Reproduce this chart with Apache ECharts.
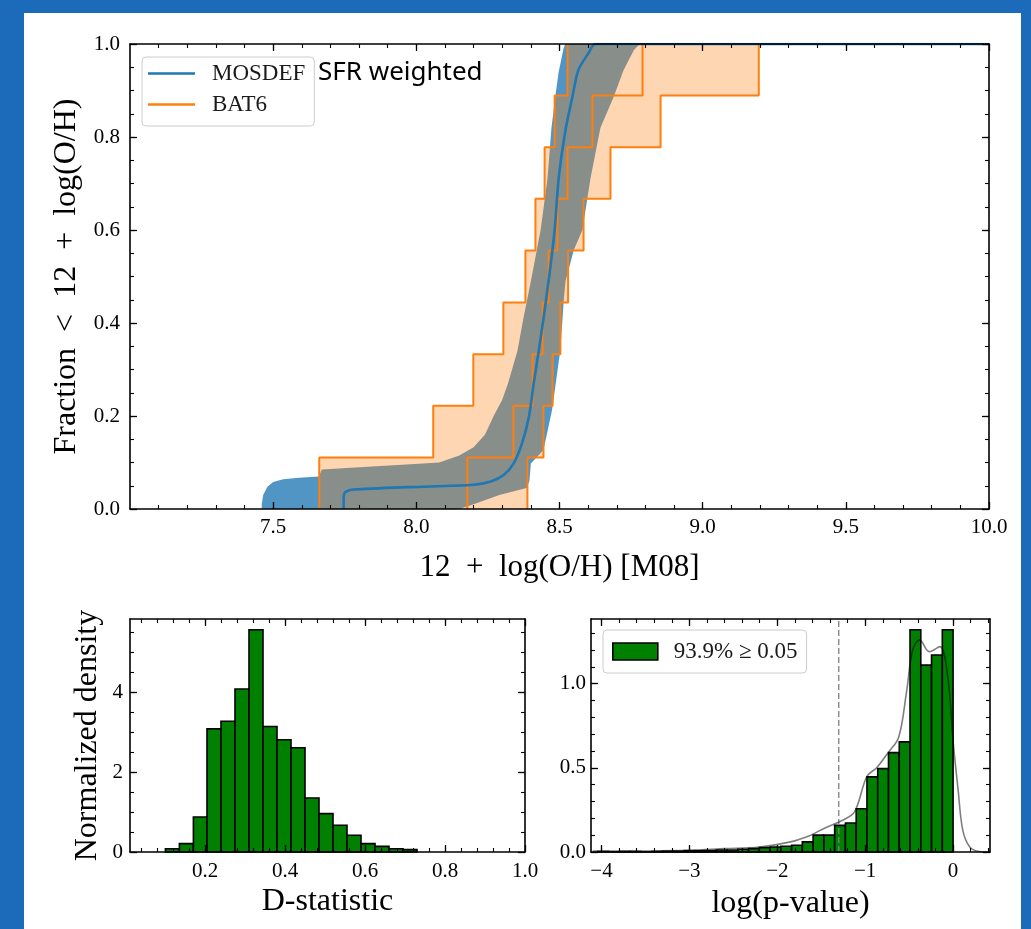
<!DOCTYPE html>
<html>
<head>
<meta charset="utf-8">
<script src="https://cdn.jsdelivr.net/npm/echarts@6/dist/echarts.min.js"></script>
<style>
html,body{margin:0;padding:0;background:#1b6bba;width:1031px;height:929px;overflow:hidden;}
#panel{position:absolute;left:24px;top:13px;width:997px;height:916px;background:#fff;}
#chart{position:absolute;left:0;top:0;width:1031px;height:929px;}
</style>
</head>
<body>
<div id="panel"></div>
<div id="chart"></div>
<script>
// ---------------- DATA ----------------
// Top panel: cumulative distributions of 12 + log(O/H)
const cdfTicksX = [7.5, 8.0, 8.5, 9.0, 9.5, 10.0];
const cdfTicksY = [0.0, 0.2, 0.4, 0.6, 0.8, 1.0];

// MOSDEF (SFR weighted) median CDF
const mosdefMedX = [7.746, 7.746, 7.75, 7.765, 7.78, 7.97, 8.2, 8.26, 8.305, 8.34, 8.369, 8.393, 8.41, 8.428, 8.445, 8.464, 8.483, 8.497, 8.521, 8.545, 8.566, 8.601, 8.626, 10.0];
const mosdefMedF = [0.0, 0.025, 0.035, 0.04, 0.042, 0.047, 0.052, 0.059, 0.073, 0.098, 0.141, 0.198, 0.27, 0.342, 0.414, 0.5, 0.60, 0.71, 0.815, 0.886, 0.944, 0.98, 1.0, 1.0];

// MOSDEF uncertainty band: left (upper CDF) edge and right (lower CDF) edge
const mosdefBandLeftX = [7.46, 7.46, 7.465, 7.48, 7.50, 7.535, 7.59, 7.66, 7.67, 7.80, 7.95, 8.08, 8.15, 8.20, 8.24, 8.27, 8.30, 8.32, 8.353, 8.374, 8.40, 8.434, 8.458, 8.472, 8.486, 8.497, 8.514, 8.52];
const mosdefBandLeftF = [0.0, 0.01, 0.03, 0.048, 0.058, 0.064, 0.067, 0.07, 0.085, 0.09, 0.095, 0.10, 0.115, 0.133, 0.16, 0.2, 0.235, 0.27, 0.34, 0.41, 0.49, 0.6, 0.71, 0.82, 0.89, 0.94, 0.99, 1.0];
const mosdefBandRightX = [8.15, 8.2, 8.29, 8.385, 8.395, 8.40, 8.444, 8.474, 8.503, 8.515, 8.521, 8.55, 8.58, 8.608, 8.643, 8.689, 8.724, 8.76, 8.78];
const mosdefBandRightF = [0.0, 0.01, 0.03, 0.045, 0.06, 0.098, 0.127, 0.213, 0.342, 0.45, 0.49, 0.557, 0.6, 0.71, 0.82, 0.886, 0.944, 0.987, 1.0];

// BAT6 step CDFs (9 hosts): cumulative levels and step positions
const bat6Levels = [0.0, 0.111, 0.222, 0.333, 0.444, 0.556, 0.667, 0.778, 0.889, 1.0];
const bat6LowX  = [7.661, 8.059, 8.199, 8.304, 8.381, 8.416, 8.448, 8.483, 8.528];
const bat6MidX  = [8.178, 8.339, 8.406, 8.441, 8.462, 8.493, 8.528, 8.615, 8.790];
const bat6HighX = [8.388, 8.444, 8.476, 8.503, 8.530, 8.584, 8.678, 8.853, 9.196];

// Bottom left: D-statistic histogram
const dTicksX = [0.2, 0.4, 0.6, 0.8, 1.0];
const dTicksY = [0, 2, 4];
const dEdges = [0.101, 0.136, 0.171, 0.205, 0.240, 0.275, 0.310, 0.345, 0.380, 0.415, 0.450, 0.485, 0.520, 0.555, 0.590, 0.625, 0.660, 0.695, 0.730];
const dDensity = [0.08, 0.21, 0.875, 3.08, 3.27, 4.08, 5.56, 3.14, 2.81, 2.61, 1.35, 0.96, 0.67, 0.42, 0.21, 0.14, 0.08, 0.06];

// Bottom right: log(p-value) histogram + KDE
const pTicksX = [-4, -3, -2, -1, 0];
const pTicksY = [0.0, 0.5, 1.0];
const pEdges = [-4.0425, -3.92, -3.7975, -3.675, -3.5525, -3.43, -3.3075, -3.185, -3.0625, -2.94, -2.8175, -2.695, -2.5725, -2.45, -2.3275, -2.205, -2.0825, -1.96, -1.8375, -1.715, -1.5925, -1.47, -1.3475, -1.225, -1.1025, -0.98, -0.8575, -0.735, -0.6125, -0.49, -0.3675, -0.245, -0.1225, 0.0];
const pDensity = [0.003, 0.0, 0.003, 0.003, 0.0, 0.003, 0.005, 0.005, 0.008, 0.008, 0.008, 0.012, 0.012, 0.016, 0.02, 0.026, 0.03, 0.034, 0.04, 0.06, 0.10, 0.10, 0.158, 0.172, 0.257, 0.446, 0.495, 0.59, 0.654, 1.32, 1.11, 1.17, 1.32];
const pKdeX = [-4.1, -3.5, -3.0, -2.6, -2.2, -1.85, -1.62, -1.47, -1.25, -1.12, -0.98, -0.87, -0.74, -0.62, -0.53, -0.46, -0.38, -0.27, -0.15, -0.06, 0.0, 0.057, 0.11, 0.19, 0.3, 0.42];
const pKdeY = [0.005, 0.006, 0.01, 0.02, 0.03, 0.06, 0.10, 0.14, 0.19, 0.24, 0.45, 0.50, 0.59, 0.68, 0.95, 1.2, 1.26, 1.19, 1.22, 1.04, 0.66, 0.37, 0.13, 0.03, 0.003, 0.0];
const pThresholdLog = -1.301;   // log10(0.05)
const pLegendLabel = '93.9% \u2265 0.05';

// ---------------- HELPERS ----------------
const SERIF = "'Liberation Serif', 'DejaVu Serif', serif";
function seq(a, b, step) { const out = []; for (let v = a; v <= b + 1e-9; v += step) out.push(Math.round(v * 10000) / 10000); return out; }
function zip(xs, ys) { return xs.map((x, i) => [x, ys[i]]); }
function stepOutline(xs, levels) {
  const pts = [];
  for (let i = 0; i < xs.length; i++) { pts.push([xs[i], levels[i]]); pts.push([xs[i], levels[i + 1]]); }
  return pts;
}
function polygonSeries(leftPts, rightPts, fill, z, xi, yi) {
  return {
    type: 'custom', xAxisIndex: xi, yAxisIndex: yi, z: z, silent: true, clip: true,
    data: [leftPts[0]], encode: { x: 0, y: 1 },
    renderItem: function (params, api) {
      const pts = [];
      leftPts.forEach(p => pts.push(api.coord(p)));
      for (let i = rightPts.length - 1; i >= 0; i--) pts.push(api.coord(rightPts[i]));
      return { type: 'polygon', shape: { points: pts }, style: { fill: fill } };
    }
  };
}
function histSeries(edges, dens, name, xi, yi) {
  const data = dens.map((d, i) => [edges[i], edges[i + 1], d]);
  return {
    type: 'custom', name: name, xAxisIndex: xi, yAxisIndex: yi, z: 3,
    itemStyle: { color: '#008000', borderColor: '#000' },
    data: data, encode: { x: [0, 1], y: 2 },
    renderItem: function (params, api) {
      const p0 = api.coord([api.value(0), api.value(2)]);
      const p1 = api.coord([api.value(1), 0]);
      return { type: 'rect', shape: { x: p0[0], y: p0[1], width: p1[0] - p0[0], height: p1[1] - p0[1] },
               style: { fill: '#008000', stroke: '#000', lineWidth: 1.6 } };
    }
  };
}
const AX = { color: '#000', width: 1.6 };
function axisSet(dim, grid, min, max, major, minor, labels, fmt, name, nameGap, nameSize, labelMargin) {
  const sides = dim === 'x' ? ['bottom', 'top'] : ['left', 'right'];
  const base = { type: 'value', gridIndex: grid, min: min, max: max, splitLine: { show: false }, z: 10 };
  const out = [];
  sides.forEach((side, si) => {
    out.push(Object.assign({}, base, {
      position: side,
      axisLine: { show: true, onZero: false, lineStyle: AX },
      axisTick: { show: true, inside: true, length: 7, customValues: major, lineStyle: { color: '#000', width: 1.3 } },
      axisLabel: si === 0 ? { show: true, customValues: labels, formatter: fmt, margin: labelMargin, color: '#000', fontFamily: SERIF, fontSize: 21 } : { show: false },
      name: si === 0 ? name : '',
      nameLocation: 'middle', nameGap: nameGap, nameRotate: dim === 'y' ? 90 : 0,
      nameTextStyle: { fontFamily: SERIF, fontSize: nameSize, color: '#000' }
    }));
    out.push(Object.assign({}, base, {
      position: side,
      axisLine: { show: false, onZero: false },
      axisTick: { show: true, inside: true, length: 4, customValues: minor, lineStyle: { color: '#000', width: 1.1 } },
      axisLabel: { show: false }
    }));
  });
  return out;
}

// ---------------- AXES ----------------
const xAxes = [].concat(
  axisSet('x', 0, 7.0, 10.0, cdfTicksX, seq(7.1, 9.9, 0.1), cdfTicksX, v => v.toFixed(1), '12  +  log(O/H) [M08]', 43, 31, 8),
  axisSet('x', 1, 0.0125, 1.0, dTicksX, seq(0.04, 0.96, 0.04), dTicksX, v => v.toFixed(1), 'D-statistic', 34, 32, 9),
  axisSet('x', 2, -4.12, 0.42, pTicksX, seq(-4.0, 0.4, 0.2), pTicksX, v => (v < 0 ? '\u2212' + Math.abs(v) : String(v)), 'log(p-value)', 36, 32, 9)
);
const yAxes = [].concat(
  axisSet('y', 0, 0, 1.0, cdfTicksY, seq(0.05, 0.95, 0.05), cdfTicksY, v => v.toFixed(1), 'Fraction  <  12  +  log(O/H)', 46, 32, 10),
  axisSet('y', 1, 0, 5.83, dTicksY, seq(0.5, 5.5, 0.5), dTicksY, v => String(v), 'Normalized density', 26, 32, 7),
  axisSet('y', 2, 0, 1.384, pTicksY, seq(0.1, 1.3, 0.1), pTicksY, v => v.toFixed(1), '', 0, 29, 5)
);

// ---------------- SERIES ----------------
const series = [
  polygonSeries(zip(mosdefBandLeftX, mosdefBandLeftF), zip(mosdefBandRightX, mosdefBandRightF), 'rgba(31,119,180,0.78)', 1, 0, 0),
  polygonSeries(stepOutline(bat6LowX, bat6Levels), stepOutline(bat6HighX, bat6Levels), 'rgba(255,127,14,0.32)', 2, 0, 0),
  { type: 'line', name: 'BAT6 low', xAxisIndex: 0, yAxisIndex: 0, z: 4, symbol: 'none', data: stepOutline(bat6LowX, bat6Levels), lineStyle: { color: '#ff7f0e', width: 2 }, silent: true },
  { type: 'line', name: 'BAT6', xAxisIndex: 0, yAxisIndex: 0, z: 4, symbol: 'none', data: stepOutline(bat6MidX, bat6Levels), lineStyle: { color: '#ff7f0e', width: 2 }, itemStyle: { color: '#ff7f0e' }, silent: true },
  { type: 'line', name: 'BAT6 high', xAxisIndex: 0, yAxisIndex: 0, z: 4, symbol: 'none', data: stepOutline(bat6HighX, bat6Levels), lineStyle: { color: '#ff7f0e', width: 2 }, silent: true },
  { type: 'line', name: 'MOSDEF', xAxisIndex: 0, yAxisIndex: 0, z: 5, symbol: 'none', smooth: 0.3, data: zip(mosdefMedX, mosdefMedF), lineStyle: { color: '#1f77b4', width: 2.6 }, itemStyle: { color: '#1f77b4' }, silent: true },
  histSeries(dEdges, dDensity, 'D-statistic', 4, 4),
  histSeries(pEdges, pDensity, pLegendLabel, 8, 8),
  { type: 'line', name: 'KDE', xAxisIndex: 8, yAxisIndex: 8, z: 5, symbol: 'none', smooth: 0.35, data: zip(pKdeX, pKdeY), lineStyle: { color: 'rgba(0,0,0,0.5)', width: 1.6 }, silent: true },
  { type: 'line', name: 'p = 0.05', xAxisIndex: 8, yAxisIndex: 8, z: 4, symbol: 'none', data: [[pThresholdLog, 0], [pThresholdLog, 1.384]], lineStyle: { color: '#7f7f7f', width: 1.3, type: [6, 3] }, silent: true }
];

const option = {
  animation: false,
  backgroundColor: 'transparent',
  grid: [
    { left: 130, top: 44, width: 859, height: 465, outerBoundsMode: 'none' },
    { left: 130, top: 619, width: 395, height: 233, outerBoundsMode: 'none' },
    { left: 591, top: 619, width: 399, height: 233, outerBoundsMode: 'none' }
  ],
  xAxis: xAxes,
  yAxis: yAxes,
  legend: [
    { data: [
        { name: 'MOSDEF', icon: 'rect', itemStyle: { color: '#1f77b4', borderWidth: 0 } },
        { name: 'BAT6', icon: 'rect', itemStyle: { color: '#ff7f0e', borderWidth: 0 } }
      ],
      orient: 'vertical', left: 142, top: 57, itemWidth: 47, itemHeight: 2.6, itemGap: 8,
      padding: [5, 9, 10, 6], backgroundColor: 'rgba(255,255,255,0.85)', borderColor: '#cccccc', borderWidth: 1, borderRadius: 4,
      selectedMode: false, textStyle: { fontFamily: SERIF, fontSize: 23, lineHeight: 23, color: '#1a1a1a', padding: [0, 0, 0, 12] } },
    { data: [{ name: pLegendLabel, icon: 'rect', itemStyle: { color: '#008000', borderColor: '#000', borderWidth: 1.6 } }],
      left: 603, top: 630, itemWidth: 45, itemHeight: 17, padding: [10, 9, 10, 9],
      backgroundColor: 'rgba(255,255,255,0.85)', borderColor: '#cccccc', borderWidth: 1, borderRadius: 4,
      selectedMode: false, textStyle: { fontFamily: SERIF, fontSize: 23, color: '#1a1a1a', padding: [0, 0, 0, 11] } }
  ],
  graphic: [
    { type: 'text', left: 318, top: 60, z: 100, style: { text: 'SFR weighted', fontFamily: "'Noto Sans', sans-serif", fontSize: 26, fill: '#000' } }
  ],
  series: series
};

const chart = echarts.init(document.getElementById('chart'), null, { renderer: 'canvas', width: 1031, height: 929 });
chart.setOption(option);
</script>
</body>
</html>
